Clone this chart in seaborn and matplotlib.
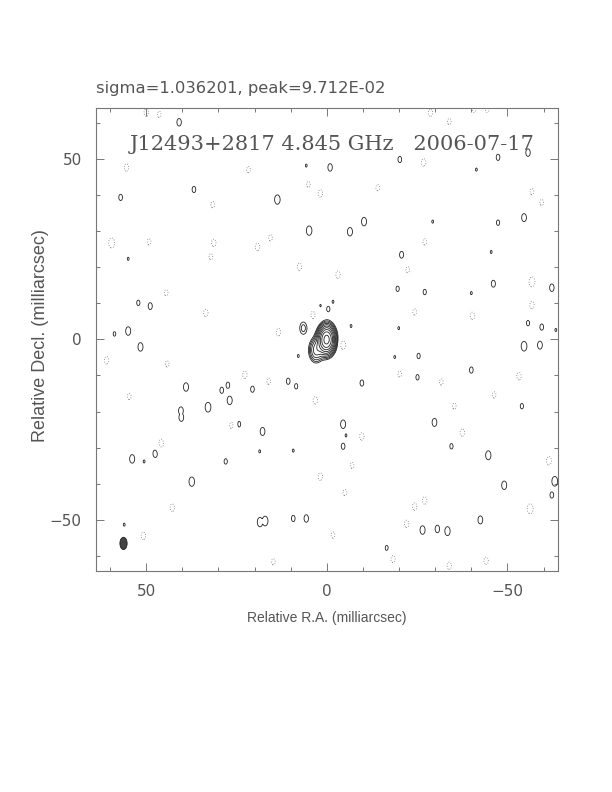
#!/usr/bin/env python3
"""VLBI clean map of J12493+2817 at 4.845 GHz, contour plot in the old PGPLOT style."""

import numpy as np
import matplotlib
matplotlib.use("Agg")
import matplotlib.pyplot as plt
from matplotlib.patches import Ellipse
from matplotlib.ticker import MultipleLocator, FixedLocator
import seaborn as sns

# restoring beam (mas, deg)
beam_major = 3.4
beam_minor = 2.0
beam_pa = 0.0
beam_x, beam_y = 56.3, -56.5

# source components: position (mas), peak in units of the lowest contour, size relative to beam
src_x = [0.0, 1.0, 3.0, 6.5]
src_y = [0.0, -1.0, -3.0, 3.1]
src_amp = [80.0, 10.0, 8.0, 2.0]
src_scale = [1.25, 1.3, 1.2, 1.0]

# positive noise peaks
pos_x = [40.9, 5.7, -0.9, 36.8, 57.1, 13.7, 4.9, 55.0, 52.2, 48.9, 1.8, -0.4, 55.0, 58.8,
         -20.2, -47.4, -55.7, -41.4, -10.3, -6.4, -29.3, -47.4, -54.6, -45.5, -20.7, -19.6,
         -27.1, -40.0, -46.1, -62.3, -1.7, -6.7, -19.9, -55.7, -59.5, -63.4,
         51.6, 7.9, 39.0, 29.1, 27.4, 20.6, 10.7, 8.5, 26.9, 32.9, 40.4, 40.3, 24.4, 17.8,
         18.6, 9.3, 53.9, 47.5, 50.6, 28.0, 37.4, 18.5, 17.1, 9.3, 5.7, 56.1,
         -25.4, -18.8, -54.6, -59.0, -40.0, -25.1, -9.7, -54.0, -4.5, -29.8, -5.3, -4.5,
         -34.5, -44.7, -49.1, -63.1, -62.3, -42.5, -26.5, -30.6, -33.4, -16.6]
pos_y = [60.1, 48.1, 47.6, 41.5, 39.3, 38.7, 30.1, 22.3, 10.1, 9.2, 9.3, 8.4, 2.3, 1.5,
         49.8, 50.4, 51.7, 47.0, 32.6, 29.8, 32.6, 32.3, 33.7, 24.2, 23.4, 14.0,
         13.1, 12.8, 15.4, 14.3, 10.4, 3.7, 3.1, 4.5, 3.4, 2.6,
         -2.1, -4.6, -13.2, -14.1, -12.7, -13.8, -11.6, -13.0, -16.9, -18.8, -19.8, -21.6, -23.5, -25.5,
         -31.0, -30.8, -33.1, -31.6, -33.8, -33.8, -39.4, -50.6, -50.3, -49.6, -49.6, -51.3,
         -4.6, -4.9, -1.9, -1.6, -8.5, -10.5, -12.1, -18.5, -23.5, -23.0, -26.6, -29.6,
         -29.6, -32.1, -40.4, -39.3, -43.1, -50.0, -52.8, -52.5, -53.1, -57.8]
pos_amp = [1.3, 1.05, 1.3, 1.2, 1.2, 1.5, 1.5, 1.05, 1.15, 1.25, 1.05, 1.15, 1.4, 1.1,
           1.2, 1.2, 1.3, 1.05, 1.4, 1.4, 1.05, 1.15, 1.35, 1.05, 1.25, 1.15,
           1.15, 1.05, 1.25, 1.3, 1.05, 1.05, 1.05, 1.15, 1.2, 1.05,
           1.4, 1.05, 1.4, 1.2, 1.2, 1.2, 1.2, 1.15, 1.4, 1.55, 1.35, 1.35, 1.25, 1.35,
           1.05, 1.05, 1.4, 1.35, 1.05, 1.15, 1.5, 1.5, 1.55, 1.2, 1.3, 1.05,
           1.15, 1.05, 1.55, 1.35, 1.2, 1.15, 1.2, 1.15, 1.4, 1.35, 1.05, 1.2,
           1.15, 1.45, 1.4, 1.55, 1.2, 1.35, 1.4, 1.3, 1.45, 1.15]

# negative noise troughs (dotted contours)
neg_x = [50.0, 46.4, 55.5, 21.7, 5.1, 1.8, 31.6, 59.6, 49.2, 31.3, 19.2, 15.6, 32.1, 7.6,
         44.5, 33.5, 13.4, 3.8,
         -28.7, -33.9, -40.8, -44.4, -26.8, -14.1, -56.8, -59.5, -27.1, -3.1, -22.4, -56.8,
         -56.8, -24.3, -40.3, -4.5,
         61.0, 44.2, 22.7, 16.1, 3.2, 54.7, 26.3, 45.9, 1.8, 42.8, 50.8, 14.8,
         -20.2, -31.7, -53.2, -46.3, -35.3, -9.7, -37.5, -61.5, -7.0, -5.0, -24.3, -27.1,
         -56.3, -22.1, -1.7, -18.3, -33.9, -44.1]
neg_y = [62.8, 62.3, 47.6, 47.0, 42.9, 40.4, 37.3, 26.7, 27.0, 26.7, 25.6, 28.1, 22.9, 20.1,
         12.9, 7.3, 2.0, 6.8,
         62.8, 60.3, 63.7, 63.7, 49.0, 42.0, 40.9, 37.9, 27.0, 17.9, 19.3, 15.9,
         9.5, 7.6, 6.5, -1.6,
         -5.8, -6.8, -9.8, -11.6, -16.9, -15.8, -23.8, -28.8, -38.0, -46.6, -54.4, -61.6,
         -9.6, -11.8, -10.2, -15.4, -18.5, -26.9, -25.8, -33.6, -34.9, -42.4, -46.3, -44.6,
         -46.9, -51.1, -54.2, -60.8, -62.7, -61.3]
neg_amp = [1.3, 1.2, 1.3, 1.2, 1.2, 1.3, 1.2, 1.6, 1.2, 1.3, 1.3, 1.2, 1.2, 1.3,
           1.2, 1.3, 1.3, 1.3,
           1.3, 1.2, 1.2, 1.2, 1.3, 1.2, 1.2, 1.2, 1.2, 1.3, 1.2, 1.6,
           1.3, 1.2, 1.3, 1.4,
           1.3, 1.2, 1.3, 1.2, 1.3, 1.2, 1.3, 1.4, 1.3, 1.3, 1.3, 1.2,
           1.2, 1.2, 1.3, 1.2, 1.2, 1.3, 1.3, 1.4, 1.2, 1.2, 1.3, 1.3,
           1.6, 1.3, 1.2, 1.3, 1.3, 1.3]

title_text = "J12493+2817 4.845 GHz   2006-07-17"
stats_text = "sigma=1.036201, peak=9.712E-02"
contour_factor = 1.6
n_levels = 10

sns.set_theme(style="ticks")
plt.rcParams["font.family"] = ["Liberation Sans", "DejaVu Sans"]

# build the map on a grid
gx = np.linspace(64, -64, 641)
gy = np.linspace(-64, 64, 641)
X, Y = np.meshgrid(gx, gy)
sx = beam_minor / 2.3548
sy = beam_major / 2.3548


def blob(x0, y0, amp, scale=1.0):
    return amp * np.exp(-0.5 * (((X - x0) / (sx * scale)) ** 2 + ((Y - y0) / (sy * scale)) ** 2))


img = np.zeros_like(X)
for x0, y0, a, s in zip(src_x, src_y, src_amp, src_scale):
    img += blob(x0, y0, a, s)

# noise peaks kept separate: take the strongest one at each pixel
pos_noise = np.zeros_like(X)
for x0, y0, a in zip(pos_x, pos_y, pos_amp):
    pos_noise = np.maximum(pos_noise, blob(x0, y0, a))
neg_noise = np.zeros_like(X)
for x0, y0, a in zip(neg_x, neg_y, neg_amp):
    neg_noise = np.maximum(neg_noise, blob(x0, y0, a))
img = img + pos_noise - neg_noise

fig = plt.figure(figsize=(6.12, 7.92), dpi=100)
ax = fig.add_axes([95.7 / 612, 1 - 570.5 / 792, 462.3 / 612, 462.3 / 792])

pos_levels = contour_factor ** np.arange(n_levels)
ax.contour(X, Y, img, levels=pos_levels, colors="#222222", linewidths=0.6)
ax.contour(X, Y, img, levels=[-1.0], colors="#777777", linewidths=0.6,
           linestyles=[(0, (1, 2))])

ax.add_patch(Ellipse((beam_x, beam_y), beam_minor, beam_major, angle=beam_pa,
                     facecolor="#444444", edgecolor="#222222", linewidth=0.6))

ax.set_xlim(64, -64)
ax.set_ylim(-64, 64)
ax.set_aspect("auto")

for axis in (ax.xaxis, ax.yaxis):
    axis.set_major_locator(FixedLocator([-50, 0, 50]))
    axis.set_minor_locator(MultipleLocator(10))
ax.tick_params(which="both", direction="in", top=True, right=True, color="#777777",
               width=0.7, labelcolor="#555555", pad=10)
ax.tick_params(which="major", length=6)
ax.tick_params(which="minor", length=3)
for lab in ax.get_xticklabels() + ax.get_yticklabels():
    lab.set_family(["DejaVu Sans"])
    lab.set_fontsize(11)
for sp in ax.spines.values():
    sp.set_color("#777777")
    sp.set_linewidth(0.8)

ax.text(0.074, 0.91, title_text, transform=ax.transAxes, fontsize=15,
        family=["DejaVu Serif"], color="#555555")
fig.text(95.7 / 612, 1 - 88 / 792, stats_text, fontsize=11.8, color="#555555",
         va="center", ha="left", family=["DejaVu Sans"])
fig.text(326.7 / 612, 1 - 618 / 792, "Relative R.A. (milliarcsec)", fontsize=10,
         color="#555555", ha="center", va="center")
fig.text(41 / 612, 1 - 336 / 792, "Relative Decl. (milliarcsec)", fontsize=13,
         color="#555555", ha="center", va="center", rotation=90)

fig.savefig("out.png", dpi=100)
